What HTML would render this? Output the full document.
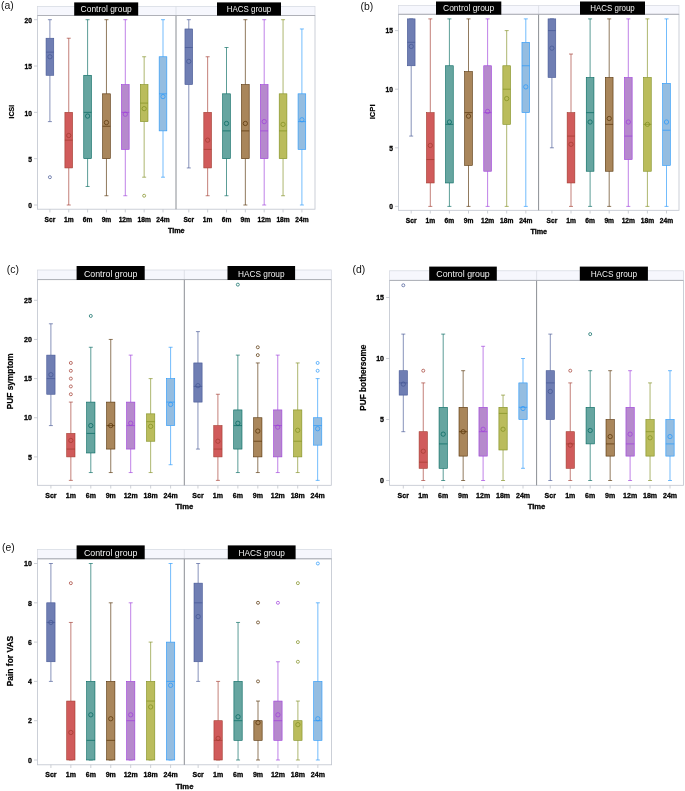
<!DOCTYPE html>
<html><head><meta charset="utf-8"><title>Box plots</title>
<style>
html,body{margin:0;padding:0;background:#fff;}
svg{display:block;will-change:transform;opacity:0.9999;}
text{font-family:"Liberation Sans",sans-serif;}
.gl{font-size:9.2px;fill:#f2f2f2;text-anchor:middle;}
.yt{font-size:7.5px;font-weight:bold;fill:#000;stroke:#000;stroke-width:0.3px;text-anchor:end;}
.xt{font-size:7.5px;font-weight:bold;fill:#000;stroke:#000;stroke-width:0.3px;text-anchor:middle;}
.al{font-size:7.65px;font-weight:bold;fill:#000;stroke:#000;stroke-width:0.3px;text-anchor:middle;}
.yl{font-size:8.2px;font-weight:bold;fill:#000;stroke:#000;stroke-width:0.2px;text-anchor:middle;}
.gl.s{font-size:8.8px;}
.yt.s,.xt.s{font-size:7.1px;}
.al.s{font-size:7.2px;}
.yl.s{font-size:7.8px;}
.tg{font-size:10.4px;fill:#111;}
</style></head><body>
<svg width="685" height="791" viewBox="0 0 685 791">
<rect width="685" height="791" fill="#fff"/>
<g>
<rect x="37.5" y="6.4" width="277.5" height="9.1" fill="#f6f7fd" stroke="#d4d8e0" stroke-width="0.7"/>
<line x1="176" y1="6.4" x2="176" y2="15.5" stroke="#d4d8e0" stroke-width="0.7"/>
<rect x="37.5" y="15.5" width="277.5" height="193.7" fill="#fff" stroke="#bfc4ce" stroke-width="0.8"/>
<line x1="176" y1="15.5" x2="176" y2="209.2" stroke="#7e8188" stroke-width="0.9"/>
<line x1="37.5" y1="15.5" x2="315" y2="15.5" stroke="#acaeb4" stroke-width="0.9"/>
<rect x="74.2" y="2.4" width="64" height="13.2" fill="#000"/>
<text x="106.2" y="12.3" class="gl s" textLength="51.2" lengthAdjust="spacingAndGlyphs">Control group</text>
<rect x="217" y="2.4" width="64" height="13.2" fill="#000"/>
<text x="249" y="12.3" class="gl s" textLength="44.5" lengthAdjust="spacingAndGlyphs">HACS group</text>
<line x1="34" y1="205" x2="37.5" y2="205" stroke="#c0c4cc" stroke-width="0.8"/>
<text transform="translate(31.9,208.2) scale(0.94,1)" class="yt s">0</text>
<line x1="34" y1="158.68" x2="37.5" y2="158.68" stroke="#c0c4cc" stroke-width="0.8"/>
<text transform="translate(31.9,161.88) scale(0.94,1)" class="yt s">5</text>
<line x1="34" y1="112.35" x2="37.5" y2="112.35" stroke="#c0c4cc" stroke-width="0.8"/>
<text transform="translate(31.9,115.55) scale(0.94,1)" class="yt s">10</text>
<line x1="34" y1="66.02" x2="37.5" y2="66.02" stroke="#c0c4cc" stroke-width="0.8"/>
<text transform="translate(31.9,69.22) scale(0.94,1)" class="yt s">15</text>
<line x1="34" y1="19.7" x2="37.5" y2="19.7" stroke="#c0c4cc" stroke-width="0.8"/>
<text transform="translate(31.9,22.9) scale(0.94,1)" class="yt s">20</text>
<text transform="translate(14.2,111.6) rotate(-90)" class="yl s" textLength="13.6" lengthAdjust="spacingAndGlyphs">ICSI</text>
<text x="176.25" y="232.5" class="al s">Time</text>
<text x="1" y="9" class="tg">(a)</text>
<line x1="49.9" y1="209.2" x2="49.9" y2="212.4" stroke="#c0c4cc" stroke-width="0.8"/>
<text transform="translate(49.9,222.1) scale(0.94,1)" class="xt s">Scr</text>
<path d="M49.9 19.7V38.23M49.9 75.29V121.61M47.9 19.7h4M47.9 121.61h4" stroke="#445694" stroke-width="0.95" stroke-opacity="0.68" fill="none"/>
<rect x="46.05" y="38.23" width="7.7" height="37.06" fill="#6F7EB3" stroke="#445694" stroke-width="0.6"/>
<line x1="46.05" y1="52.13" x2="53.75" y2="52.13" stroke="#445694" stroke-width="0.8" stroke-opacity="0.85"/>
<circle cx="49.9" cy="56.76" r="2.15" fill="none" stroke="#445694" stroke-width="0.7"/>
<circle cx="49.9" cy="177.2" r="1.5" fill="none" stroke="#445694" stroke-width="0.7"/>
<line x1="68.75" y1="209.2" x2="68.75" y2="212.4" stroke="#c0c4cc" stroke-width="0.8"/>
<text transform="translate(68.75,222.1) scale(0.94,1)" class="xt s">1m</text>
<path d="M68.75 38.23V112.35M68.75 167.94V205M66.75 38.23h4M66.75 205h4" stroke="#A23A2E" stroke-width="0.95" stroke-opacity="0.68" fill="none"/>
<rect x="64.9" y="112.35" width="7.7" height="55.59" fill="#D05B5B" stroke="#A23A2E" stroke-width="0.6"/>
<line x1="64.9" y1="140.14" x2="72.6" y2="140.14" stroke="#A23A2E" stroke-width="0.8" stroke-opacity="0.85"/>
<circle cx="68.75" cy="135.51" r="2.15" fill="none" stroke="#A23A2E" stroke-width="0.7"/>
<line x1="87.6" y1="209.2" x2="87.6" y2="212.4" stroke="#c0c4cc" stroke-width="0.8"/>
<text transform="translate(87.6,222.1) scale(0.94,1)" class="xt s">6m</text>
<path d="M87.6 19.7V75.29M87.6 158.68V186.47M85.6 19.7h4M85.6 186.47h4" stroke="#01665E" stroke-width="0.95" stroke-opacity="0.68" fill="none"/>
<rect x="83.75" y="75.29" width="7.7" height="83.39" fill="#66A5A0" stroke="#01665E" stroke-width="0.6"/>
<line x1="83.75" y1="112.35" x2="91.45" y2="112.35" stroke="#01665E" stroke-width="0.8" stroke-opacity="0.85"/>
<circle cx="87.6" cy="116.06" r="2.15" fill="none" stroke="#01665E" stroke-width="0.7"/>
<line x1="106.45" y1="209.2" x2="106.45" y2="212.4" stroke="#c0c4cc" stroke-width="0.8"/>
<text transform="translate(106.45,222.1) scale(0.94,1)" class="xt s">9m</text>
<path d="M106.45 19.7V93.82M106.45 158.68V195.74M104.45 19.7h4M104.45 195.74h4" stroke="#543005" stroke-width="0.95" stroke-opacity="0.68" fill="none"/>
<rect x="102.6" y="93.82" width="7.7" height="64.86" fill="#A9865B" stroke="#543005" stroke-width="0.6"/>
<line x1="102.6" y1="126.25" x2="110.3" y2="126.25" stroke="#543005" stroke-width="0.8" stroke-opacity="0.85"/>
<circle cx="106.45" cy="122.54" r="2.15" fill="none" stroke="#543005" stroke-width="0.7"/>
<line x1="125.3" y1="209.2" x2="125.3" y2="212.4" stroke="#c0c4cc" stroke-width="0.8"/>
<text transform="translate(125.3,222.1) scale(0.94,1)" class="xt s">12m</text>
<path d="M125.3 19.7V84.55M125.3 149.41V195.74M123.3 19.7h4M123.3 195.74h4" stroke="#9D3CDB" stroke-width="0.95" stroke-opacity="0.68" fill="none"/>
<rect x="121.45" y="84.55" width="7.7" height="64.86" fill="#B689CD" stroke="#9D3CDB" stroke-width="0.6"/>
<line x1="121.45" y1="112.35" x2="129.15" y2="112.35" stroke="#9D3CDB" stroke-width="0.8" stroke-opacity="0.85"/>
<circle cx="125.3" cy="114.2" r="2.15" fill="none" stroke="#9D3CDB" stroke-width="0.7"/>
<line x1="144.15" y1="209.2" x2="144.15" y2="212.4" stroke="#c0c4cc" stroke-width="0.8"/>
<text transform="translate(144.15,222.1) scale(0.94,1)" class="xt s">18m</text>
<path d="M144.15 56.76V84.55M144.15 121.61V177.2M142.15 56.76h4M142.15 177.2h4" stroke="#7F8E1F" stroke-width="0.95" stroke-opacity="0.68" fill="none"/>
<rect x="140.3" y="84.55" width="7.7" height="37.06" fill="#BABC5C" stroke="#7F8E1F" stroke-width="0.6"/>
<line x1="140.3" y1="103.08" x2="148" y2="103.08" stroke="#7F8E1F" stroke-width="0.8" stroke-opacity="0.85"/>
<circle cx="144.15" cy="108.64" r="2.15" fill="none" stroke="#7F8E1F" stroke-width="0.7"/>
<circle cx="144.15" cy="195.74" r="1.5" fill="none" stroke="#7F8E1F" stroke-width="0.7"/>
<line x1="163" y1="209.2" x2="163" y2="212.4" stroke="#c0c4cc" stroke-width="0.8"/>
<text transform="translate(163,222.1) scale(0.94,1)" class="xt s">24m</text>
<path d="M163 19.7V56.76M163 130.88V177.2M161 19.7h4M161 177.2h4" stroke="#2597FA" stroke-width="0.95" stroke-opacity="0.68" fill="none"/>
<rect x="159.15" y="56.76" width="7.7" height="74.12" fill="#94BDE1" stroke="#2597FA" stroke-width="0.6"/>
<line x1="159.15" y1="93.82" x2="166.85" y2="93.82" stroke="#2597FA" stroke-width="0.8" stroke-opacity="0.85"/>
<circle cx="163" cy="96.6" r="2.15" fill="none" stroke="#2597FA" stroke-width="0.7"/>
<line x1="188.8" y1="209.2" x2="188.8" y2="212.4" stroke="#c0c4cc" stroke-width="0.8"/>
<text transform="translate(188.8,222.1) scale(0.94,1)" class="xt s">Scr</text>
<path d="M188.8 19.7V28.96M188.8 84.55V167.94M186.8 19.7h4M186.8 167.94h4" stroke="#445694" stroke-width="0.95" stroke-opacity="0.68" fill="none"/>
<rect x="184.95" y="28.96" width="7.7" height="55.59" fill="#6F7EB3" stroke="#445694" stroke-width="0.6"/>
<line x1="184.95" y1="47.5" x2="192.65" y2="47.5" stroke="#445694" stroke-width="0.8" stroke-opacity="0.85"/>
<circle cx="188.8" cy="61.39" r="2.15" fill="none" stroke="#445694" stroke-width="0.7"/>
<line x1="207.65" y1="209.2" x2="207.65" y2="212.4" stroke="#c0c4cc" stroke-width="0.8"/>
<text transform="translate(207.65,222.1) scale(0.94,1)" class="xt s">1m</text>
<path d="M207.65 56.76V112.35M207.65 167.94V195.74M205.65 56.76h4M205.65 195.74h4" stroke="#A23A2E" stroke-width="0.95" stroke-opacity="0.68" fill="none"/>
<rect x="203.8" y="112.35" width="7.7" height="55.59" fill="#D05B5B" stroke="#A23A2E" stroke-width="0.6"/>
<line x1="203.8" y1="149.41" x2="211.5" y2="149.41" stroke="#A23A2E" stroke-width="0.8" stroke-opacity="0.85"/>
<circle cx="207.65" cy="140.14" r="2.15" fill="none" stroke="#A23A2E" stroke-width="0.7"/>
<line x1="226.5" y1="209.2" x2="226.5" y2="212.4" stroke="#c0c4cc" stroke-width="0.8"/>
<text transform="translate(226.5,222.1) scale(0.94,1)" class="xt s">6m</text>
<path d="M226.5 47.5V93.82M226.5 158.68V195.74M224.5 47.5h4M224.5 195.74h4" stroke="#01665E" stroke-width="0.95" stroke-opacity="0.68" fill="none"/>
<rect x="222.65" y="93.82" width="7.7" height="64.86" fill="#66A5A0" stroke="#01665E" stroke-width="0.6"/>
<line x1="222.65" y1="130.88" x2="230.35" y2="130.88" stroke="#01665E" stroke-width="0.8" stroke-opacity="0.85"/>
<circle cx="226.5" cy="123.47" r="2.15" fill="none" stroke="#01665E" stroke-width="0.7"/>
<line x1="245.35" y1="209.2" x2="245.35" y2="212.4" stroke="#c0c4cc" stroke-width="0.8"/>
<text transform="translate(245.35,222.1) scale(0.94,1)" class="xt s">9m</text>
<path d="M245.35 19.7V84.55M245.35 158.68V205M243.35 19.7h4M243.35 205h4" stroke="#543005" stroke-width="0.95" stroke-opacity="0.68" fill="none"/>
<rect x="241.5" y="84.55" width="7.7" height="74.12" fill="#A9865B" stroke="#543005" stroke-width="0.6"/>
<line x1="241.5" y1="130.88" x2="249.2" y2="130.88" stroke="#543005" stroke-width="0.8" stroke-opacity="0.85"/>
<circle cx="245.35" cy="123.47" r="2.15" fill="none" stroke="#543005" stroke-width="0.7"/>
<line x1="264.2" y1="209.2" x2="264.2" y2="212.4" stroke="#c0c4cc" stroke-width="0.8"/>
<text transform="translate(264.2,222.1) scale(0.94,1)" class="xt s">12m</text>
<path d="M264.2 19.7V84.55M264.2 158.68V205M262.2 19.7h4M262.2 205h4" stroke="#9D3CDB" stroke-width="0.95" stroke-opacity="0.68" fill="none"/>
<rect x="260.35" y="84.55" width="7.7" height="74.12" fill="#B689CD" stroke="#9D3CDB" stroke-width="0.6"/>
<line x1="260.35" y1="130.88" x2="268.05" y2="130.88" stroke="#9D3CDB" stroke-width="0.8" stroke-opacity="0.85"/>
<circle cx="264.2" cy="121.61" r="2.15" fill="none" stroke="#9D3CDB" stroke-width="0.7"/>
<line x1="283.05" y1="209.2" x2="283.05" y2="212.4" stroke="#c0c4cc" stroke-width="0.8"/>
<text transform="translate(283.05,222.1) scale(0.94,1)" class="xt s">18m</text>
<path d="M283.05 19.7V93.82M283.05 158.68V195.74M281.05 19.7h4M281.05 195.74h4" stroke="#7F8E1F" stroke-width="0.95" stroke-opacity="0.68" fill="none"/>
<rect x="279.2" y="93.82" width="7.7" height="64.86" fill="#BABC5C" stroke="#7F8E1F" stroke-width="0.6"/>
<line x1="279.2" y1="130.88" x2="286.9" y2="130.88" stroke="#7F8E1F" stroke-width="0.8" stroke-opacity="0.85"/>
<circle cx="283.05" cy="124.39" r="2.15" fill="none" stroke="#7F8E1F" stroke-width="0.7"/>
<line x1="301.9" y1="209.2" x2="301.9" y2="212.4" stroke="#c0c4cc" stroke-width="0.8"/>
<text transform="translate(301.9,222.1) scale(0.94,1)" class="xt s">24m</text>
<path d="M301.9 28.96V93.82M301.9 149.41V205M299.9 28.96h4M299.9 205h4" stroke="#2597FA" stroke-width="0.95" stroke-opacity="0.68" fill="none"/>
<rect x="298.05" y="93.82" width="7.7" height="55.59" fill="#94BDE1" stroke="#2597FA" stroke-width="0.6"/>
<line x1="298.05" y1="121.61" x2="305.75" y2="121.61" stroke="#2597FA" stroke-width="0.8" stroke-opacity="0.85"/>
<circle cx="301.9" cy="119.76" r="2.15" fill="none" stroke="#2597FA" stroke-width="0.7"/>
</g>
<g>
<rect x="398.5" y="5.6" width="280.5" height="8.7" fill="#f6f7fd" stroke="#d4d8e0" stroke-width="0.7"/>
<line x1="538.6" y1="5.6" x2="538.6" y2="14.3" stroke="#d4d8e0" stroke-width="0.7"/>
<rect x="398.5" y="14.3" width="280.5" height="196" fill="#fff" stroke="#bfc4ce" stroke-width="0.8"/>
<line x1="538.6" y1="14.3" x2="538.6" y2="210.3" stroke="#7e8188" stroke-width="0.9"/>
<line x1="398.5" y1="14.3" x2="679" y2="14.3" stroke="#acaeb4" stroke-width="0.9"/>
<rect x="436" y="1.5" width="65.3" height="13.2" fill="#000"/>
<text x="468.65" y="11.4" class="gl s" textLength="51.2" lengthAdjust="spacingAndGlyphs">Control group</text>
<rect x="580" y="1.5" width="65" height="13.2" fill="#000"/>
<text x="612.5" y="11.4" class="gl s" textLength="44.5" lengthAdjust="spacingAndGlyphs">HACS group</text>
<line x1="395" y1="206.4" x2="398.5" y2="206.4" stroke="#c0c4cc" stroke-width="0.8"/>
<text transform="translate(392.9,209.1) scale(0.94,1)" class="yt s">0</text>
<line x1="395" y1="147.8" x2="398.5" y2="147.8" stroke="#c0c4cc" stroke-width="0.8"/>
<text transform="translate(392.9,150.5) scale(0.94,1)" class="yt s">5</text>
<line x1="395" y1="89.2" x2="398.5" y2="89.2" stroke="#c0c4cc" stroke-width="0.8"/>
<text transform="translate(392.9,91.9) scale(0.94,1)" class="yt s">10</text>
<line x1="395" y1="30.6" x2="398.5" y2="30.6" stroke="#c0c4cc" stroke-width="0.8"/>
<text transform="translate(392.9,33.3) scale(0.94,1)" class="yt s">15</text>
<text transform="translate(375.3,111.9) rotate(-90)" class="yl s" textLength="14.9" lengthAdjust="spacingAndGlyphs">ICPI</text>
<text x="538.75" y="233.9" class="al s">Time</text>
<text x="360.5" y="10" class="tg">(b)</text>
<line x1="411.2" y1="210.3" x2="411.2" y2="213.5" stroke="#c0c4cc" stroke-width="0.8"/>
<text transform="translate(411.2,223) scale(0.94,1)" class="xt s">Scr</text>
<path d="M411.2 18.88V18.88M411.2 65.76V136.08M409.2 18.88h4M409.2 136.08h4" stroke="#445694" stroke-width="0.95" stroke-opacity="0.68" fill="none"/>
<rect x="407.35" y="18.88" width="7.7" height="46.88" fill="#6F7EB3" stroke="#445694" stroke-width="0.6"/>
<line x1="407.35" y1="42.32" x2="415.05" y2="42.32" stroke="#445694" stroke-width="0.8" stroke-opacity="0.85"/>
<circle cx="411.2" cy="46.42" r="2.15" fill="none" stroke="#445694" stroke-width="0.7"/>
<line x1="430.3" y1="210.3" x2="430.3" y2="213.5" stroke="#c0c4cc" stroke-width="0.8"/>
<text transform="translate(430.3,223) scale(0.94,1)" class="xt s">1m</text>
<path d="M430.3 18.88V112.64M430.3 182.96V206.4M428.3 18.88h4M428.3 206.4h4" stroke="#A23A2E" stroke-width="0.95" stroke-opacity="0.68" fill="none"/>
<rect x="426.45" y="112.64" width="7.7" height="70.32" fill="#D05B5B" stroke="#A23A2E" stroke-width="0.6"/>
<line x1="426.45" y1="159.52" x2="434.15" y2="159.52" stroke="#A23A2E" stroke-width="0.8" stroke-opacity="0.85"/>
<circle cx="430.3" cy="145.46" r="2.15" fill="none" stroke="#A23A2E" stroke-width="0.7"/>
<line x1="449.4" y1="210.3" x2="449.4" y2="213.5" stroke="#c0c4cc" stroke-width="0.8"/>
<text transform="translate(449.4,223) scale(0.94,1)" class="xt s">6m</text>
<path d="M449.4 18.88V65.76M449.4 182.96V206.4M447.4 18.88h4M447.4 206.4h4" stroke="#01665E" stroke-width="0.95" stroke-opacity="0.68" fill="none"/>
<rect x="445.55" y="65.76" width="7.7" height="117.2" fill="#66A5A0" stroke="#01665E" stroke-width="0.6"/>
<line x1="445.55" y1="124.36" x2="453.25" y2="124.36" stroke="#01665E" stroke-width="0.8" stroke-opacity="0.85"/>
<circle cx="449.4" cy="122.02" r="2.15" fill="none" stroke="#01665E" stroke-width="0.7"/>
<line x1="468.5" y1="210.3" x2="468.5" y2="213.5" stroke="#c0c4cc" stroke-width="0.8"/>
<text transform="translate(468.5,223) scale(0.94,1)" class="xt s">9m</text>
<path d="M468.5 18.88V71.62M468.5 165.38V206.4M466.5 18.88h4M466.5 206.4h4" stroke="#543005" stroke-width="0.95" stroke-opacity="0.68" fill="none"/>
<rect x="464.65" y="71.62" width="7.7" height="93.76" fill="#A9865B" stroke="#543005" stroke-width="0.6"/>
<line x1="464.65" y1="112.64" x2="472.35" y2="112.64" stroke="#543005" stroke-width="0.8" stroke-opacity="0.85"/>
<circle cx="468.5" cy="116.16" r="2.15" fill="none" stroke="#543005" stroke-width="0.7"/>
<line x1="487.6" y1="210.3" x2="487.6" y2="213.5" stroke="#c0c4cc" stroke-width="0.8"/>
<text transform="translate(487.6,223) scale(0.94,1)" class="xt s">12m</text>
<path d="M487.6 18.88V65.76M487.6 171.24V206.4M485.6 18.88h4M485.6 206.4h4" stroke="#9D3CDB" stroke-width="0.95" stroke-opacity="0.68" fill="none"/>
<rect x="483.75" y="65.76" width="7.7" height="105.48" fill="#B689CD" stroke="#9D3CDB" stroke-width="0.6"/>
<line x1="483.75" y1="112.64" x2="491.45" y2="112.64" stroke="#9D3CDB" stroke-width="0.8" stroke-opacity="0.85"/>
<circle cx="487.6" cy="111.47" r="2.15" fill="none" stroke="#9D3CDB" stroke-width="0.7"/>
<line x1="506.7" y1="210.3" x2="506.7" y2="213.5" stroke="#c0c4cc" stroke-width="0.8"/>
<text transform="translate(506.7,223) scale(0.94,1)" class="xt s">18m</text>
<path d="M506.7 30.6V65.76M506.7 124.36V206.4M504.7 30.6h4M504.7 206.4h4" stroke="#7F8E1F" stroke-width="0.95" stroke-opacity="0.68" fill="none"/>
<rect x="502.85" y="65.76" width="7.7" height="58.6" fill="#BABC5C" stroke="#7F8E1F" stroke-width="0.6"/>
<line x1="502.85" y1="89.2" x2="510.55" y2="89.2" stroke="#7F8E1F" stroke-width="0.8" stroke-opacity="0.85"/>
<circle cx="506.7" cy="98.58" r="2.15" fill="none" stroke="#7F8E1F" stroke-width="0.7"/>
<line x1="525.8" y1="210.3" x2="525.8" y2="213.5" stroke="#c0c4cc" stroke-width="0.8"/>
<text transform="translate(525.8,223) scale(0.94,1)" class="xt s">24m</text>
<path d="M525.8 18.88V42.32M525.8 112.64V206.4M523.8 18.88h4M523.8 206.4h4" stroke="#2597FA" stroke-width="0.95" stroke-opacity="0.68" fill="none"/>
<rect x="521.95" y="42.32" width="7.7" height="70.32" fill="#94BDE1" stroke="#2597FA" stroke-width="0.6"/>
<line x1="521.95" y1="65.76" x2="529.65" y2="65.76" stroke="#2597FA" stroke-width="0.8" stroke-opacity="0.85"/>
<circle cx="525.8" cy="86.86" r="2.15" fill="none" stroke="#2597FA" stroke-width="0.7"/>
<line x1="551.9" y1="210.3" x2="551.9" y2="213.5" stroke="#c0c4cc" stroke-width="0.8"/>
<text transform="translate(551.9,223) scale(0.94,1)" class="xt s">Scr</text>
<path d="M551.9 18.88V18.88M551.9 77.48V147.8M549.9 18.88h4M549.9 147.8h4" stroke="#445694" stroke-width="0.95" stroke-opacity="0.68" fill="none"/>
<rect x="548.05" y="18.88" width="7.7" height="58.6" fill="#6F7EB3" stroke="#445694" stroke-width="0.6"/>
<line x1="548.05" y1="30.6" x2="555.75" y2="30.6" stroke="#445694" stroke-width="0.8" stroke-opacity="0.85"/>
<circle cx="551.9" cy="48.18" r="2.15" fill="none" stroke="#445694" stroke-width="0.7"/>
<line x1="571" y1="210.3" x2="571" y2="213.5" stroke="#c0c4cc" stroke-width="0.8"/>
<text transform="translate(571,223) scale(0.94,1)" class="xt s">1m</text>
<path d="M571 54.04V112.64M571 182.96V206.4M569 54.04h4M569 206.4h4" stroke="#A23A2E" stroke-width="0.95" stroke-opacity="0.68" fill="none"/>
<rect x="567.15" y="112.64" width="7.7" height="70.32" fill="#D05B5B" stroke="#A23A2E" stroke-width="0.6"/>
<line x1="567.15" y1="136.08" x2="574.85" y2="136.08" stroke="#A23A2E" stroke-width="0.8" stroke-opacity="0.85"/>
<circle cx="571" cy="144.28" r="2.15" fill="none" stroke="#A23A2E" stroke-width="0.7"/>
<line x1="590.1" y1="210.3" x2="590.1" y2="213.5" stroke="#c0c4cc" stroke-width="0.8"/>
<text transform="translate(590.1,223) scale(0.94,1)" class="xt s">6m</text>
<path d="M590.1 18.88V77.48M590.1 171.24V206.4M588.1 18.88h4M588.1 206.4h4" stroke="#01665E" stroke-width="0.95" stroke-opacity="0.68" fill="none"/>
<rect x="586.25" y="77.48" width="7.7" height="93.76" fill="#66A5A0" stroke="#01665E" stroke-width="0.6"/>
<line x1="586.25" y1="112.64" x2="593.95" y2="112.64" stroke="#01665E" stroke-width="0.8" stroke-opacity="0.85"/>
<circle cx="590.1" cy="122.02" r="2.15" fill="none" stroke="#01665E" stroke-width="0.7"/>
<line x1="609.2" y1="210.3" x2="609.2" y2="213.5" stroke="#c0c4cc" stroke-width="0.8"/>
<text transform="translate(609.2,223) scale(0.94,1)" class="xt s">9m</text>
<path d="M609.2 18.88V77.48M609.2 171.24V206.4M607.2 18.88h4M607.2 206.4h4" stroke="#543005" stroke-width="0.95" stroke-opacity="0.68" fill="none"/>
<rect x="605.35" y="77.48" width="7.7" height="93.76" fill="#A9865B" stroke="#543005" stroke-width="0.6"/>
<line x1="605.35" y1="124.36" x2="613.05" y2="124.36" stroke="#543005" stroke-width="0.8" stroke-opacity="0.85"/>
<circle cx="609.2" cy="118.5" r="2.15" fill="none" stroke="#543005" stroke-width="0.7"/>
<line x1="628.3" y1="210.3" x2="628.3" y2="213.5" stroke="#c0c4cc" stroke-width="0.8"/>
<text transform="translate(628.3,223) scale(0.94,1)" class="xt s">12m</text>
<path d="M628.3 18.88V77.48M628.3 159.52V206.4M626.3 18.88h4M626.3 206.4h4" stroke="#9D3CDB" stroke-width="0.95" stroke-opacity="0.68" fill="none"/>
<rect x="624.45" y="77.48" width="7.7" height="82.04" fill="#B689CD" stroke="#9D3CDB" stroke-width="0.6"/>
<line x1="624.45" y1="136.08" x2="632.15" y2="136.08" stroke="#9D3CDB" stroke-width="0.8" stroke-opacity="0.85"/>
<circle cx="628.3" cy="122.02" r="2.15" fill="none" stroke="#9D3CDB" stroke-width="0.7"/>
<line x1="647.4" y1="210.3" x2="647.4" y2="213.5" stroke="#c0c4cc" stroke-width="0.8"/>
<text transform="translate(647.4,223) scale(0.94,1)" class="xt s">18m</text>
<path d="M647.4 18.88V77.48M647.4 171.24V206.4M645.4 18.88h4M645.4 206.4h4" stroke="#7F8E1F" stroke-width="0.95" stroke-opacity="0.68" fill="none"/>
<rect x="643.55" y="77.48" width="7.7" height="93.76" fill="#BABC5C" stroke="#7F8E1F" stroke-width="0.6"/>
<line x1="643.55" y1="124.36" x2="651.25" y2="124.36" stroke="#7F8E1F" stroke-width="0.8" stroke-opacity="0.85"/>
<circle cx="647.4" cy="124.36" r="2.15" fill="none" stroke="#7F8E1F" stroke-width="0.7"/>
<line x1="666.5" y1="210.3" x2="666.5" y2="213.5" stroke="#c0c4cc" stroke-width="0.8"/>
<text transform="translate(666.5,223) scale(0.94,1)" class="xt s">24m</text>
<path d="M666.5 18.88V83.34M666.5 165.38V206.4M664.5 18.88h4M664.5 206.4h4" stroke="#2597FA" stroke-width="0.95" stroke-opacity="0.68" fill="none"/>
<rect x="662.65" y="83.34" width="7.7" height="82.04" fill="#94BDE1" stroke="#2597FA" stroke-width="0.6"/>
<line x1="662.65" y1="130.22" x2="670.35" y2="130.22" stroke="#2597FA" stroke-width="0.8" stroke-opacity="0.85"/>
<circle cx="666.5" cy="122.02" r="2.15" fill="none" stroke="#2597FA" stroke-width="0.7"/>
</g>
<g>
<rect x="37.5" y="270" width="293.8" height="9.6" fill="#f6f7fd" stroke="#d4d8e0" stroke-width="0.7"/>
<line x1="184.3" y1="270" x2="184.3" y2="279.6" stroke="#d4d8e0" stroke-width="0.7"/>
<rect x="37.5" y="279.6" width="293.8" height="205.7" fill="#fff" stroke="#bfc4ce" stroke-width="0.8"/>
<line x1="184.3" y1="279.6" x2="184.3" y2="485.3" stroke="#7e8188" stroke-width="0.9"/>
<line x1="37.5" y1="279.6" x2="331.3" y2="279.6" stroke="#acaeb4" stroke-width="0.9"/>
<rect x="76.6" y="266" width="68.1" height="14" fill="#000"/>
<text x="110.65" y="276.7" class="gl" textLength="53.4" lengthAdjust="spacingAndGlyphs">Control group</text>
<rect x="227.5" y="266" width="67.6" height="14" fill="#000"/>
<text x="261.3" y="276.7" class="gl" textLength="46.4" lengthAdjust="spacingAndGlyphs">HACS group</text>
<line x1="34" y1="456.9" x2="37.5" y2="456.9" stroke="#c0c4cc" stroke-width="0.8"/>
<text transform="translate(31.9,459.6) scale(0.94,1)" class="yt">5</text>
<line x1="34" y1="417.75" x2="37.5" y2="417.75" stroke="#c0c4cc" stroke-width="0.8"/>
<text transform="translate(31.9,420.45) scale(0.94,1)" class="yt">10</text>
<line x1="34" y1="378.6" x2="37.5" y2="378.6" stroke="#c0c4cc" stroke-width="0.8"/>
<text transform="translate(31.9,381.3) scale(0.94,1)" class="yt">15</text>
<line x1="34" y1="339.45" x2="37.5" y2="339.45" stroke="#c0c4cc" stroke-width="0.8"/>
<text transform="translate(31.9,342.15) scale(0.94,1)" class="yt">20</text>
<line x1="34" y1="300.3" x2="37.5" y2="300.3" stroke="#c0c4cc" stroke-width="0.8"/>
<text transform="translate(31.9,303) scale(0.94,1)" class="yt">25</text>
<text transform="translate(13.1,381.3) rotate(-90)" class="yl" textLength="55.9" lengthAdjust="spacingAndGlyphs">PUF symptom</text>
<text x="184.4" y="509" class="al">Time</text>
<text x="6.8" y="272.5" class="tg">(c)</text>
<line x1="50.9" y1="485.3" x2="50.9" y2="488.5" stroke="#c0c4cc" stroke-width="0.8"/>
<text transform="translate(50.9,497.8) scale(0.94,1)" class="xt">Scr</text>
<path d="M50.9 323.79V355.11M50.9 394.26V425.58M48.9 323.79h4M48.9 425.58h4" stroke="#445694" stroke-width="0.95" stroke-opacity="0.68" fill="none"/>
<rect x="46.75" y="355.11" width="8.3" height="39.15" fill="#6F7EB3" stroke="#445694" stroke-width="0.6"/>
<line x1="46.75" y1="378.6" x2="55.05" y2="378.6" stroke="#445694" stroke-width="0.8" stroke-opacity="0.85"/>
<circle cx="50.9" cy="374.69" r="2.15" fill="none" stroke="#445694" stroke-width="0.7"/>
<line x1="70.85" y1="485.3" x2="70.85" y2="488.5" stroke="#c0c4cc" stroke-width="0.8"/>
<text transform="translate(70.85,497.8) scale(0.94,1)" class="xt">1m</text>
<path d="M70.85 402.09V433.41M70.85 456.9V480.39M68.85 402.09h4M68.85 480.39h4" stroke="#A23A2E" stroke-width="0.95" stroke-opacity="0.68" fill="none"/>
<rect x="66.7" y="433.41" width="8.3" height="23.49" fill="#D05B5B" stroke="#A23A2E" stroke-width="0.6"/>
<line x1="66.7" y1="449.07" x2="75" y2="449.07" stroke="#A23A2E" stroke-width="0.8" stroke-opacity="0.85"/>
<circle cx="70.85" cy="440.46" r="2.15" fill="none" stroke="#A23A2E" stroke-width="0.7"/>
<circle cx="70.85" cy="394.26" r="1.5" fill="none" stroke="#A23A2E" stroke-width="0.7"/>
<circle cx="70.85" cy="386.43" r="1.5" fill="none" stroke="#A23A2E" stroke-width="0.7"/>
<circle cx="70.85" cy="378.6" r="1.5" fill="none" stroke="#A23A2E" stroke-width="0.7"/>
<circle cx="70.85" cy="370.77" r="1.5" fill="none" stroke="#A23A2E" stroke-width="0.7"/>
<circle cx="70.85" cy="362.94" r="1.5" fill="none" stroke="#A23A2E" stroke-width="0.7"/>
<line x1="90.8" y1="485.3" x2="90.8" y2="488.5" stroke="#c0c4cc" stroke-width="0.8"/>
<text transform="translate(90.8,497.8) scale(0.94,1)" class="xt">6m</text>
<path d="M90.8 347.28V402.09M90.8 452.99V472.56M88.8 347.28h4M88.8 472.56h4" stroke="#01665E" stroke-width="0.95" stroke-opacity="0.68" fill="none"/>
<rect x="86.65" y="402.09" width="8.3" height="50.89" fill="#66A5A0" stroke="#01665E" stroke-width="0.6"/>
<line x1="86.65" y1="433.41" x2="94.95" y2="433.41" stroke="#01665E" stroke-width="0.8" stroke-opacity="0.85"/>
<circle cx="90.8" cy="425.58" r="2.15" fill="none" stroke="#01665E" stroke-width="0.7"/>
<circle cx="90.8" cy="315.96" r="1.5" fill="none" stroke="#01665E" stroke-width="0.7"/>
<line x1="110.75" y1="485.3" x2="110.75" y2="488.5" stroke="#c0c4cc" stroke-width="0.8"/>
<text transform="translate(110.75,497.8) scale(0.94,1)" class="xt">9m</text>
<path d="M110.75 339.45V402.09M110.75 449.07V472.56M108.75 339.45h4M108.75 472.56h4" stroke="#543005" stroke-width="0.95" stroke-opacity="0.68" fill="none"/>
<rect x="106.6" y="402.09" width="8.3" height="46.98" fill="#A9865B" stroke="#543005" stroke-width="0.6"/>
<line x1="106.6" y1="425.58" x2="114.9" y2="425.58" stroke="#543005" stroke-width="0.8" stroke-opacity="0.85"/>
<circle cx="110.75" cy="425.58" r="2.15" fill="none" stroke="#543005" stroke-width="0.7"/>
<line x1="130.7" y1="485.3" x2="130.7" y2="488.5" stroke="#c0c4cc" stroke-width="0.8"/>
<text transform="translate(130.7,497.8) scale(0.94,1)" class="xt">12m</text>
<path d="M130.7 355.11V402.09M130.7 449.07V472.56M128.7 355.11h4M128.7 472.56h4" stroke="#9D3CDB" stroke-width="0.95" stroke-opacity="0.68" fill="none"/>
<rect x="126.55" y="402.09" width="8.3" height="46.98" fill="#B689CD" stroke="#9D3CDB" stroke-width="0.6"/>
<line x1="126.55" y1="425.58" x2="134.85" y2="425.58" stroke="#9D3CDB" stroke-width="0.8" stroke-opacity="0.85"/>
<circle cx="130.7" cy="423.23" r="2.15" fill="none" stroke="#9D3CDB" stroke-width="0.7"/>
<line x1="150.65" y1="485.3" x2="150.65" y2="488.5" stroke="#c0c4cc" stroke-width="0.8"/>
<text transform="translate(150.65,497.8) scale(0.94,1)" class="xt">18m</text>
<path d="M150.65 378.6V413.84M150.65 441.24V472.56M148.65 378.6h4M148.65 472.56h4" stroke="#7F8E1F" stroke-width="0.95" stroke-opacity="0.68" fill="none"/>
<rect x="146.5" y="413.84" width="8.3" height="27.4" fill="#BABC5C" stroke="#7F8E1F" stroke-width="0.6"/>
<line x1="146.5" y1="421.67" x2="154.8" y2="421.67" stroke="#7F8E1F" stroke-width="0.8" stroke-opacity="0.85"/>
<circle cx="150.65" cy="426.36" r="2.15" fill="none" stroke="#7F8E1F" stroke-width="0.7"/>
<line x1="170.6" y1="485.3" x2="170.6" y2="488.5" stroke="#c0c4cc" stroke-width="0.8"/>
<text transform="translate(170.6,497.8) scale(0.94,1)" class="xt">24m</text>
<path d="M170.6 347.28V378.6M170.6 425.58V464.73M168.6 347.28h4M168.6 464.73h4" stroke="#2597FA" stroke-width="0.95" stroke-opacity="0.68" fill="none"/>
<rect x="166.45" y="378.6" width="8.3" height="46.98" fill="#94BDE1" stroke="#2597FA" stroke-width="0.6"/>
<line x1="166.45" y1="402.09" x2="174.75" y2="402.09" stroke="#2597FA" stroke-width="0.8" stroke-opacity="0.85"/>
<circle cx="170.6" cy="404.44" r="2.15" fill="none" stroke="#2597FA" stroke-width="0.7"/>
<line x1="197.95" y1="485.3" x2="197.95" y2="488.5" stroke="#c0c4cc" stroke-width="0.8"/>
<text transform="translate(197.95,497.8) scale(0.94,1)" class="xt">Scr</text>
<path d="M197.95 331.62V362.94M197.95 402.09V449.07M195.95 331.62h4M195.95 449.07h4" stroke="#445694" stroke-width="0.95" stroke-opacity="0.68" fill="none"/>
<rect x="193.8" y="362.94" width="8.3" height="39.15" fill="#6F7EB3" stroke="#445694" stroke-width="0.6"/>
<line x1="193.8" y1="386.43" x2="202.1" y2="386.43" stroke="#445694" stroke-width="0.8" stroke-opacity="0.85"/>
<circle cx="197.95" cy="385.65" r="2.15" fill="none" stroke="#445694" stroke-width="0.7"/>
<line x1="217.9" y1="485.3" x2="217.9" y2="488.5" stroke="#c0c4cc" stroke-width="0.8"/>
<text transform="translate(217.9,497.8) scale(0.94,1)" class="xt">1m</text>
<path d="M217.9 394.26V425.58M217.9 456.9V480.39M215.9 394.26h4M215.9 480.39h4" stroke="#A23A2E" stroke-width="0.95" stroke-opacity="0.68" fill="none"/>
<rect x="213.75" y="425.58" width="8.3" height="31.32" fill="#D05B5B" stroke="#A23A2E" stroke-width="0.6"/>
<line x1="213.75" y1="449.07" x2="222.05" y2="449.07" stroke="#A23A2E" stroke-width="0.8" stroke-opacity="0.85"/>
<circle cx="217.9" cy="441.24" r="2.15" fill="none" stroke="#A23A2E" stroke-width="0.7"/>
<line x1="237.85" y1="485.3" x2="237.85" y2="488.5" stroke="#c0c4cc" stroke-width="0.8"/>
<text transform="translate(237.85,497.8) scale(0.94,1)" class="xt">6m</text>
<path d="M237.85 355.11V409.92M237.85 449.07V472.56M235.85 355.11h4M235.85 472.56h4" stroke="#01665E" stroke-width="0.95" stroke-opacity="0.68" fill="none"/>
<rect x="233.7" y="409.92" width="8.3" height="39.15" fill="#66A5A0" stroke="#01665E" stroke-width="0.6"/>
<line x1="233.7" y1="425.58" x2="242" y2="425.58" stroke="#01665E" stroke-width="0.8" stroke-opacity="0.85"/>
<circle cx="237.85" cy="423.23" r="2.15" fill="none" stroke="#01665E" stroke-width="0.7"/>
<circle cx="237.85" cy="284.64" r="1.5" fill="none" stroke="#01665E" stroke-width="0.7"/>
<line x1="257.8" y1="485.3" x2="257.8" y2="488.5" stroke="#c0c4cc" stroke-width="0.8"/>
<text transform="translate(257.8,497.8) scale(0.94,1)" class="xt">9m</text>
<path d="M257.8 362.94V417.75M257.8 456.9V472.56M255.8 362.94h4M255.8 472.56h4" stroke="#543005" stroke-width="0.95" stroke-opacity="0.68" fill="none"/>
<rect x="253.65" y="417.75" width="8.3" height="39.15" fill="#A9865B" stroke="#543005" stroke-width="0.6"/>
<line x1="253.65" y1="441.24" x2="261.95" y2="441.24" stroke="#543005" stroke-width="0.8" stroke-opacity="0.85"/>
<circle cx="257.8" cy="431.06" r="2.15" fill="none" stroke="#543005" stroke-width="0.7"/>
<circle cx="257.8" cy="355.11" r="1.5" fill="none" stroke="#543005" stroke-width="0.7"/>
<circle cx="257.8" cy="347.28" r="1.5" fill="none" stroke="#543005" stroke-width="0.7"/>
<line x1="277.75" y1="485.3" x2="277.75" y2="488.5" stroke="#c0c4cc" stroke-width="0.8"/>
<text transform="translate(277.75,497.8) scale(0.94,1)" class="xt">12m</text>
<path d="M277.75 355.11V409.92M277.75 456.9V472.56M275.75 355.11h4M275.75 472.56h4" stroke="#9D3CDB" stroke-width="0.95" stroke-opacity="0.68" fill="none"/>
<rect x="273.6" y="409.92" width="8.3" height="46.98" fill="#B689CD" stroke="#9D3CDB" stroke-width="0.6"/>
<line x1="273.6" y1="425.58" x2="281.9" y2="425.58" stroke="#9D3CDB" stroke-width="0.8" stroke-opacity="0.85"/>
<circle cx="277.75" cy="427.15" r="2.15" fill="none" stroke="#9D3CDB" stroke-width="0.7"/>
<line x1="297.7" y1="485.3" x2="297.7" y2="488.5" stroke="#c0c4cc" stroke-width="0.8"/>
<text transform="translate(297.7,497.8) scale(0.94,1)" class="xt">18m</text>
<path d="M297.7 362.94V409.92M297.7 456.9V472.56M295.7 362.94h4M295.7 472.56h4" stroke="#7F8E1F" stroke-width="0.95" stroke-opacity="0.68" fill="none"/>
<rect x="293.55" y="409.92" width="8.3" height="46.98" fill="#BABC5C" stroke="#7F8E1F" stroke-width="0.6"/>
<line x1="293.55" y1="441.24" x2="301.85" y2="441.24" stroke="#7F8E1F" stroke-width="0.8" stroke-opacity="0.85"/>
<circle cx="297.7" cy="430.28" r="2.15" fill="none" stroke="#7F8E1F" stroke-width="0.7"/>
<line x1="317.65" y1="485.3" x2="317.65" y2="488.5" stroke="#c0c4cc" stroke-width="0.8"/>
<text transform="translate(317.65,497.8) scale(0.94,1)" class="xt">24m</text>
<path d="M317.65 378.6V417.75M317.65 445.16V480.39M315.65 378.6h4M315.65 480.39h4" stroke="#2597FA" stroke-width="0.95" stroke-opacity="0.68" fill="none"/>
<rect x="313.5" y="417.75" width="8.3" height="27.41" fill="#94BDE1" stroke="#2597FA" stroke-width="0.6"/>
<line x1="313.5" y1="425.58" x2="321.8" y2="425.58" stroke="#2597FA" stroke-width="0.8" stroke-opacity="0.85"/>
<circle cx="317.65" cy="428.71" r="2.15" fill="none" stroke="#2597FA" stroke-width="0.7"/>
<circle cx="317.65" cy="370.77" r="1.5" fill="none" stroke="#2597FA" stroke-width="0.7"/>
<circle cx="317.65" cy="362.94" r="1.5" fill="none" stroke="#2597FA" stroke-width="0.7"/>
</g>
<g>
<rect x="389.6" y="270.8" width="293.8" height="9.6" fill="#f6f7fd" stroke="#d4d8e0" stroke-width="0.7"/>
<line x1="536.6" y1="270.8" x2="536.6" y2="280.4" stroke="#d4d8e0" stroke-width="0.7"/>
<rect x="389.6" y="280.4" width="293.8" height="204.9" fill="#fff" stroke="#bfc4ce" stroke-width="0.8"/>
<line x1="536.6" y1="280.4" x2="536.6" y2="485.3" stroke="#7e8188" stroke-width="0.9"/>
<line x1="389.6" y1="280.4" x2="683.4" y2="280.4" stroke="#acaeb4" stroke-width="0.9"/>
<rect x="429.2" y="266.6" width="67.6" height="14" fill="#000"/>
<text x="463" y="277.3" class="gl" textLength="53.4" lengthAdjust="spacingAndGlyphs">Control group</text>
<rect x="579.8" y="266.6" width="68.1" height="14" fill="#000"/>
<text x="613.85" y="277.3" class="gl" textLength="46.4" lengthAdjust="spacingAndGlyphs">HACS group</text>
<line x1="386.1" y1="480.5" x2="389.6" y2="480.5" stroke="#c0c4cc" stroke-width="0.8"/>
<text transform="translate(384,483.2) scale(0.94,1)" class="yt">0</text>
<line x1="386.1" y1="419.5" x2="389.6" y2="419.5" stroke="#c0c4cc" stroke-width="0.8"/>
<text transform="translate(384,422.2) scale(0.94,1)" class="yt">5</text>
<line x1="386.1" y1="358.5" x2="389.6" y2="358.5" stroke="#c0c4cc" stroke-width="0.8"/>
<text transform="translate(384,361.2) scale(0.94,1)" class="yt">10</text>
<line x1="386.1" y1="297.5" x2="389.6" y2="297.5" stroke="#c0c4cc" stroke-width="0.8"/>
<text transform="translate(384,300.2) scale(0.94,1)" class="yt">15</text>
<text transform="translate(365.6,377.7) rotate(-90)" class="yl" textLength="66.3" lengthAdjust="spacingAndGlyphs">PUF bothersome</text>
<text x="536.5" y="509.4" class="al">Time</text>
<text x="352.5" y="272.5" class="tg">(d)</text>
<line x1="403.3" y1="485.3" x2="403.3" y2="488.5" stroke="#c0c4cc" stroke-width="0.8"/>
<text transform="translate(403.3,498) scale(0.94,1)" class="xt">Scr</text>
<path d="M403.3 334.1V370.7M403.3 395.1V431.7M401.3 334.1h4M401.3 431.7h4" stroke="#445694" stroke-width="0.95" stroke-opacity="0.68" fill="none"/>
<rect x="399.15" y="370.7" width="8.3" height="24.4" fill="#6F7EB3" stroke="#445694" stroke-width="0.6"/>
<line x1="399.15" y1="382.9" x2="407.45" y2="382.9" stroke="#445694" stroke-width="0.8" stroke-opacity="0.85"/>
<circle cx="403.3" cy="384.12" r="2.15" fill="none" stroke="#445694" stroke-width="0.7"/>
<circle cx="403.3" cy="285.3" r="1.5" fill="none" stroke="#445694" stroke-width="0.7"/>
<line x1="423.25" y1="485.3" x2="423.25" y2="488.5" stroke="#c0c4cc" stroke-width="0.8"/>
<text transform="translate(423.25,498) scale(0.94,1)" class="xt">1m</text>
<path d="M423.25 382.9V431.7M423.25 468.3V480.5M421.25 382.9h4M421.25 480.5h4" stroke="#A23A2E" stroke-width="0.95" stroke-opacity="0.68" fill="none"/>
<rect x="419.1" y="431.7" width="8.3" height="36.6" fill="#D05B5B" stroke="#A23A2E" stroke-width="0.6"/>
<line x1="419.1" y1="462.2" x2="427.4" y2="462.2" stroke="#A23A2E" stroke-width="0.8" stroke-opacity="0.85"/>
<circle cx="423.25" cy="451.22" r="2.15" fill="none" stroke="#A23A2E" stroke-width="0.7"/>
<circle cx="423.25" cy="370.7" r="1.5" fill="none" stroke="#A23A2E" stroke-width="0.7"/>
<line x1="443.2" y1="485.3" x2="443.2" y2="488.5" stroke="#c0c4cc" stroke-width="0.8"/>
<text transform="translate(443.2,498) scale(0.94,1)" class="xt">6m</text>
<path d="M443.2 334.1V407.3M443.2 468.3V480.5M441.2 334.1h4M441.2 480.5h4" stroke="#01665E" stroke-width="0.95" stroke-opacity="0.68" fill="none"/>
<rect x="439.05" y="407.3" width="8.3" height="61" fill="#66A5A0" stroke="#01665E" stroke-width="0.6"/>
<line x1="439.05" y1="443.9" x2="447.35" y2="443.9" stroke="#01665E" stroke-width="0.8" stroke-opacity="0.85"/>
<circle cx="443.2" cy="434.14" r="2.15" fill="none" stroke="#01665E" stroke-width="0.7"/>
<line x1="463.15" y1="485.3" x2="463.15" y2="488.5" stroke="#c0c4cc" stroke-width="0.8"/>
<text transform="translate(463.15,498) scale(0.94,1)" class="xt">9m</text>
<path d="M463.15 370.7V407.3M463.15 456.1V480.5M461.15 370.7h4M461.15 480.5h4" stroke="#543005" stroke-width="0.95" stroke-opacity="0.68" fill="none"/>
<rect x="459" y="407.3" width="8.3" height="48.8" fill="#A9865B" stroke="#543005" stroke-width="0.6"/>
<line x1="459" y1="431.7" x2="467.3" y2="431.7" stroke="#543005" stroke-width="0.8" stroke-opacity="0.85"/>
<circle cx="463.15" cy="431.7" r="2.15" fill="none" stroke="#543005" stroke-width="0.7"/>
<line x1="483.1" y1="485.3" x2="483.1" y2="488.5" stroke="#c0c4cc" stroke-width="0.8"/>
<text transform="translate(483.1,498) scale(0.94,1)" class="xt">12m</text>
<path d="M483.1 346.3V407.3M483.1 456.1V480.5M481.1 346.3h4M481.1 480.5h4" stroke="#9D3CDB" stroke-width="0.95" stroke-opacity="0.68" fill="none"/>
<rect x="478.95" y="407.3" width="8.3" height="48.8" fill="#B689CD" stroke="#9D3CDB" stroke-width="0.6"/>
<line x1="478.95" y1="431.7" x2="487.25" y2="431.7" stroke="#9D3CDB" stroke-width="0.8" stroke-opacity="0.85"/>
<circle cx="483.1" cy="429.26" r="2.15" fill="none" stroke="#9D3CDB" stroke-width="0.7"/>
<line x1="503.05" y1="485.3" x2="503.05" y2="488.5" stroke="#c0c4cc" stroke-width="0.8"/>
<text transform="translate(503.05,498) scale(0.94,1)" class="xt">18m</text>
<path d="M503.05 395.1V407.3M503.05 450V480.5M501.05 395.1h4M501.05 480.5h4" stroke="#7F8E1F" stroke-width="0.95" stroke-opacity="0.68" fill="none"/>
<rect x="498.9" y="407.3" width="8.3" height="42.7" fill="#BABC5C" stroke="#7F8E1F" stroke-width="0.6"/>
<line x1="498.9" y1="413.4" x2="507.2" y2="413.4" stroke="#7F8E1F" stroke-width="0.8" stroke-opacity="0.85"/>
<circle cx="503.05" cy="429.26" r="2.15" fill="none" stroke="#7F8E1F" stroke-width="0.7"/>
<line x1="523" y1="485.3" x2="523" y2="488.5" stroke="#c0c4cc" stroke-width="0.8"/>
<text transform="translate(523,498) scale(0.94,1)" class="xt">24m</text>
<path d="M523 358.5V382.9M523 419.5V468.3M521 358.5h4M521 468.3h4" stroke="#2597FA" stroke-width="0.95" stroke-opacity="0.68" fill="none"/>
<rect x="518.85" y="382.9" width="8.3" height="36.6" fill="#94BDE1" stroke="#2597FA" stroke-width="0.6"/>
<line x1="518.85" y1="407.3" x2="527.15" y2="407.3" stroke="#2597FA" stroke-width="0.8" stroke-opacity="0.85"/>
<circle cx="523" cy="408.52" r="2.15" fill="none" stroke="#2597FA" stroke-width="0.7"/>
<line x1="550.3" y1="485.3" x2="550.3" y2="488.5" stroke="#c0c4cc" stroke-width="0.8"/>
<text transform="translate(550.3,498) scale(0.94,1)" class="xt">Scr</text>
<path d="M550.3 334.1V370.7M550.3 419.5V480.5M548.3 334.1h4M548.3 480.5h4" stroke="#445694" stroke-width="0.95" stroke-opacity="0.68" fill="none"/>
<rect x="546.15" y="370.7" width="8.3" height="48.8" fill="#6F7EB3" stroke="#445694" stroke-width="0.6"/>
<line x1="546.15" y1="382.9" x2="554.45" y2="382.9" stroke="#445694" stroke-width="0.8" stroke-opacity="0.85"/>
<circle cx="550.3" cy="391.44" r="2.15" fill="none" stroke="#445694" stroke-width="0.7"/>
<line x1="570.25" y1="485.3" x2="570.25" y2="488.5" stroke="#c0c4cc" stroke-width="0.8"/>
<text transform="translate(570.25,498) scale(0.94,1)" class="xt">1m</text>
<path d="M570.25 382.9V431.7M570.25 468.3V480.5M568.25 382.9h4M568.25 480.5h4" stroke="#A23A2E" stroke-width="0.95" stroke-opacity="0.68" fill="none"/>
<rect x="566.1" y="431.7" width="8.3" height="36.6" fill="#D05B5B" stroke="#A23A2E" stroke-width="0.6"/>
<line x1="566.1" y1="443.9" x2="574.4" y2="443.9" stroke="#A23A2E" stroke-width="0.8" stroke-opacity="0.85"/>
<circle cx="570.25" cy="445.12" r="2.15" fill="none" stroke="#A23A2E" stroke-width="0.7"/>
<circle cx="570.25" cy="370.7" r="1.5" fill="none" stroke="#A23A2E" stroke-width="0.7"/>
<line x1="590.2" y1="485.3" x2="590.2" y2="488.5" stroke="#c0c4cc" stroke-width="0.8"/>
<text transform="translate(590.2,498) scale(0.94,1)" class="xt">6m</text>
<path d="M590.2 370.7V407.3M590.2 443.9V480.5M588.2 370.7h4M588.2 480.5h4" stroke="#01665E" stroke-width="0.95" stroke-opacity="0.68" fill="none"/>
<rect x="586.05" y="407.3" width="8.3" height="36.6" fill="#66A5A0" stroke="#01665E" stroke-width="0.6"/>
<circle cx="590.2" cy="430.48" r="2.15" fill="none" stroke="#01665E" stroke-width="0.7"/>
<circle cx="590.2" cy="334.1" r="1.5" fill="none" stroke="#01665E" stroke-width="0.7"/>
<line x1="610.15" y1="485.3" x2="610.15" y2="488.5" stroke="#c0c4cc" stroke-width="0.8"/>
<text transform="translate(610.15,498) scale(0.94,1)" class="xt">9m</text>
<path d="M610.15 370.7V419.5M610.15 456.1V480.5M608.15 370.7h4M608.15 480.5h4" stroke="#543005" stroke-width="0.95" stroke-opacity="0.68" fill="none"/>
<rect x="606" y="419.5" width="8.3" height="36.6" fill="#A9865B" stroke="#543005" stroke-width="0.6"/>
<line x1="606" y1="443.9" x2="614.3" y2="443.9" stroke="#543005" stroke-width="0.8" stroke-opacity="0.85"/>
<circle cx="610.15" cy="436.58" r="2.15" fill="none" stroke="#543005" stroke-width="0.7"/>
<line x1="630.1" y1="485.3" x2="630.1" y2="488.5" stroke="#c0c4cc" stroke-width="0.8"/>
<text transform="translate(630.1,498) scale(0.94,1)" class="xt">12m</text>
<path d="M630.1 370.7V407.3M630.1 456.1V480.5M628.1 370.7h4M628.1 480.5h4" stroke="#9D3CDB" stroke-width="0.95" stroke-opacity="0.68" fill="none"/>
<rect x="625.95" y="407.3" width="8.3" height="48.8" fill="#B689CD" stroke="#9D3CDB" stroke-width="0.6"/>
<line x1="625.95" y1="443.9" x2="634.25" y2="443.9" stroke="#9D3CDB" stroke-width="0.8" stroke-opacity="0.85"/>
<circle cx="630.1" cy="434.14" r="2.15" fill="none" stroke="#9D3CDB" stroke-width="0.7"/>
<line x1="650.05" y1="485.3" x2="650.05" y2="488.5" stroke="#c0c4cc" stroke-width="0.8"/>
<text transform="translate(650.05,498) scale(0.94,1)" class="xt">18m</text>
<path d="M650.05 382.9V419.5M650.05 456.1V480.5M648.05 382.9h4M648.05 480.5h4" stroke="#7F8E1F" stroke-width="0.95" stroke-opacity="0.68" fill="none"/>
<rect x="645.9" y="419.5" width="8.3" height="36.6" fill="#BABC5C" stroke="#7F8E1F" stroke-width="0.6"/>
<line x1="645.9" y1="431.7" x2="654.2" y2="431.7" stroke="#7F8E1F" stroke-width="0.8" stroke-opacity="0.85"/>
<circle cx="650.05" cy="437.8" r="2.15" fill="none" stroke="#7F8E1F" stroke-width="0.7"/>
<line x1="670" y1="485.3" x2="670" y2="488.5" stroke="#c0c4cc" stroke-width="0.8"/>
<text transform="translate(670,498) scale(0.94,1)" class="xt">24m</text>
<path d="M670 370.7V419.5M670 456.1V480.5M668 370.7h4M668 480.5h4" stroke="#2597FA" stroke-width="0.95" stroke-opacity="0.68" fill="none"/>
<rect x="665.85" y="419.5" width="8.3" height="36.6" fill="#94BDE1" stroke="#2597FA" stroke-width="0.6"/>
<line x1="665.85" y1="443.9" x2="674.15" y2="443.9" stroke="#2597FA" stroke-width="0.8" stroke-opacity="0.85"/>
<circle cx="670" cy="436.58" r="2.15" fill="none" stroke="#2597FA" stroke-width="0.7"/>
</g>
<g>
<rect x="37.5" y="549.4" width="294.1" height="9.4" fill="#f6f7fd" stroke="#d4d8e0" stroke-width="0.7"/>
<line x1="184.3" y1="549.4" x2="184.3" y2="558.8" stroke="#d4d8e0" stroke-width="0.7"/>
<rect x="37.5" y="558.8" width="294.1" height="206" fill="#fff" stroke="#bfc4ce" stroke-width="0.8"/>
<line x1="184.3" y1="558.8" x2="184.3" y2="764.8" stroke="#7e8188" stroke-width="0.9"/>
<line x1="37.5" y1="558.8" x2="331.6" y2="558.8" stroke="#acaeb4" stroke-width="0.9"/>
<rect x="76.6" y="545.4" width="68.1" height="13.8" fill="#000"/>
<text x="110.65" y="555.9" class="gl" textLength="53.4" lengthAdjust="spacingAndGlyphs">Control group</text>
<rect x="227.8" y="545.4" width="67.8" height="13.8" fill="#000"/>
<text x="261.7" y="555.9" class="gl" textLength="46.4" lengthAdjust="spacingAndGlyphs">HACS group</text>
<line x1="34" y1="760" x2="37.5" y2="760" stroke="#c0c4cc" stroke-width="0.8"/>
<text transform="translate(31.9,762.7) scale(0.94,1)" class="yt">0</text>
<line x1="34" y1="720.7" x2="37.5" y2="720.7" stroke="#c0c4cc" stroke-width="0.8"/>
<text transform="translate(31.9,723.4) scale(0.94,1)" class="yt">2</text>
<line x1="34" y1="681.4" x2="37.5" y2="681.4" stroke="#c0c4cc" stroke-width="0.8"/>
<text transform="translate(31.9,684.1) scale(0.94,1)" class="yt">4</text>
<line x1="34" y1="642.1" x2="37.5" y2="642.1" stroke="#c0c4cc" stroke-width="0.8"/>
<text transform="translate(31.9,644.8) scale(0.94,1)" class="yt">6</text>
<line x1="34" y1="602.8" x2="37.5" y2="602.8" stroke="#c0c4cc" stroke-width="0.8"/>
<text transform="translate(31.9,605.5) scale(0.94,1)" class="yt">8</text>
<line x1="34" y1="563.5" x2="37.5" y2="563.5" stroke="#c0c4cc" stroke-width="0.8"/>
<text transform="translate(31.9,566.2) scale(0.94,1)" class="yt">10</text>
<text transform="translate(13.1,661.1) rotate(-90)" class="yl" textLength="50.5" lengthAdjust="spacingAndGlyphs">Pain for VAS</text>
<text x="184.55" y="789" class="al">Time</text>
<text x="2" y="551" class="tg">(e)</text>
<line x1="50.9" y1="764.8" x2="50.9" y2="768" stroke="#c0c4cc" stroke-width="0.8"/>
<text transform="translate(50.9,777.3) scale(0.94,1)" class="xt">Scr</text>
<path d="M50.9 563.5V602.8M50.9 661.75V681.4M48.9 563.5h4M48.9 681.4h4" stroke="#445694" stroke-width="0.95" stroke-opacity="0.68" fill="none"/>
<rect x="46.75" y="602.8" width="8.3" height="58.95" fill="#6F7EB3" stroke="#445694" stroke-width="0.6"/>
<line x1="46.75" y1="622.45" x2="55.05" y2="622.45" stroke="#445694" stroke-width="0.8" stroke-opacity="0.85"/>
<circle cx="50.9" cy="622.45" r="2.15" fill="none" stroke="#445694" stroke-width="0.7"/>
<line x1="70.85" y1="764.8" x2="70.85" y2="768" stroke="#c0c4cc" stroke-width="0.8"/>
<text transform="translate(70.85,777.3) scale(0.94,1)" class="xt">1m</text>
<path d="M70.85 622.45V701.05M70.85 760V760M68.85 622.45h4M68.85 760h4" stroke="#A23A2E" stroke-width="0.95" stroke-opacity="0.68" fill="none"/>
<rect x="66.7" y="701.05" width="8.3" height="58.95" fill="#D05B5B" stroke="#A23A2E" stroke-width="0.6"/>
<circle cx="70.85" cy="732.49" r="2.15" fill="none" stroke="#A23A2E" stroke-width="0.7"/>
<circle cx="70.85" cy="583.15" r="1.5" fill="none" stroke="#A23A2E" stroke-width="0.7"/>
<line x1="90.8" y1="764.8" x2="90.8" y2="768" stroke="#c0c4cc" stroke-width="0.8"/>
<text transform="translate(90.8,777.3) scale(0.94,1)" class="xt">6m</text>
<path d="M90.8 563.5V681.4M90.8 760V760M88.8 563.5h4M88.8 760h4" stroke="#01665E" stroke-width="0.95" stroke-opacity="0.68" fill="none"/>
<rect x="86.65" y="681.4" width="8.3" height="78.6" fill="#66A5A0" stroke="#01665E" stroke-width="0.6"/>
<line x1="86.65" y1="740.35" x2="94.95" y2="740.35" stroke="#01665E" stroke-width="0.8" stroke-opacity="0.85"/>
<circle cx="90.8" cy="714.81" r="2.15" fill="none" stroke="#01665E" stroke-width="0.7"/>
<line x1="110.75" y1="764.8" x2="110.75" y2="768" stroke="#c0c4cc" stroke-width="0.8"/>
<text transform="translate(110.75,777.3) scale(0.94,1)" class="xt">9m</text>
<path d="M110.75 602.8V681.4M110.75 760V760M108.75 602.8h4M108.75 760h4" stroke="#543005" stroke-width="0.95" stroke-opacity="0.68" fill="none"/>
<rect x="106.6" y="681.4" width="8.3" height="78.6" fill="#A9865B" stroke="#543005" stroke-width="0.6"/>
<line x1="106.6" y1="740.35" x2="114.9" y2="740.35" stroke="#543005" stroke-width="0.8" stroke-opacity="0.85"/>
<circle cx="110.75" cy="718.74" r="2.15" fill="none" stroke="#543005" stroke-width="0.7"/>
<line x1="130.7" y1="764.8" x2="130.7" y2="768" stroke="#c0c4cc" stroke-width="0.8"/>
<text transform="translate(130.7,777.3) scale(0.94,1)" class="xt">12m</text>
<path d="M130.7 602.8V681.4M130.7 760V760M128.7 602.8h4M128.7 760h4" stroke="#9D3CDB" stroke-width="0.95" stroke-opacity="0.68" fill="none"/>
<rect x="126.55" y="681.4" width="8.3" height="78.6" fill="#B689CD" stroke="#9D3CDB" stroke-width="0.6"/>
<line x1="126.55" y1="720.7" x2="134.85" y2="720.7" stroke="#9D3CDB" stroke-width="0.8" stroke-opacity="0.85"/>
<circle cx="130.7" cy="714.81" r="2.15" fill="none" stroke="#9D3CDB" stroke-width="0.7"/>
<line x1="150.65" y1="764.8" x2="150.65" y2="768" stroke="#c0c4cc" stroke-width="0.8"/>
<text transform="translate(150.65,777.3) scale(0.94,1)" class="xt">18m</text>
<path d="M150.65 642.1V681.4M150.65 760V760M148.65 642.1h4M148.65 760h4" stroke="#7F8E1F" stroke-width="0.95" stroke-opacity="0.68" fill="none"/>
<rect x="146.5" y="681.4" width="8.3" height="78.6" fill="#BABC5C" stroke="#7F8E1F" stroke-width="0.6"/>
<line x1="146.5" y1="701.05" x2="154.8" y2="701.05" stroke="#7F8E1F" stroke-width="0.8" stroke-opacity="0.85"/>
<circle cx="150.65" cy="706.95" r="2.15" fill="none" stroke="#7F8E1F" stroke-width="0.7"/>
<line x1="170.6" y1="764.8" x2="170.6" y2="768" stroke="#c0c4cc" stroke-width="0.8"/>
<text transform="translate(170.6,777.3) scale(0.94,1)" class="xt">24m</text>
<path d="M170.6 563.5V642.1M170.6 760V760M168.6 563.5h4M168.6 760h4" stroke="#2597FA" stroke-width="0.95" stroke-opacity="0.68" fill="none"/>
<rect x="166.45" y="642.1" width="8.3" height="117.9" fill="#94BDE1" stroke="#2597FA" stroke-width="0.6"/>
<line x1="166.45" y1="681.4" x2="174.75" y2="681.4" stroke="#2597FA" stroke-width="0.8" stroke-opacity="0.85"/>
<circle cx="170.6" cy="685.33" r="2.15" fill="none" stroke="#2597FA" stroke-width="0.7"/>
<line x1="198.15" y1="764.8" x2="198.15" y2="768" stroke="#c0c4cc" stroke-width="0.8"/>
<text transform="translate(198.15,777.3) scale(0.94,1)" class="xt">Scr</text>
<path d="M198.15 563.5V583.15M198.15 661.75V681.4M196.15 563.5h4M196.15 681.4h4" stroke="#445694" stroke-width="0.95" stroke-opacity="0.68" fill="none"/>
<rect x="194" y="583.15" width="8.3" height="78.6" fill="#6F7EB3" stroke="#445694" stroke-width="0.6"/>
<line x1="194" y1="602.8" x2="202.3" y2="602.8" stroke="#445694" stroke-width="0.8" stroke-opacity="0.85"/>
<circle cx="198.15" cy="616.56" r="2.15" fill="none" stroke="#445694" stroke-width="0.7"/>
<line x1="218.1" y1="764.8" x2="218.1" y2="768" stroke="#c0c4cc" stroke-width="0.8"/>
<text transform="translate(218.1,777.3) scale(0.94,1)" class="xt">1m</text>
<path d="M218.1 681.4V720.7M218.1 760V760M216.1 681.4h4M216.1 760h4" stroke="#A23A2E" stroke-width="0.95" stroke-opacity="0.68" fill="none"/>
<rect x="213.95" y="720.7" width="8.3" height="39.3" fill="#D05B5B" stroke="#A23A2E" stroke-width="0.6"/>
<line x1="213.95" y1="740.35" x2="222.25" y2="740.35" stroke="#A23A2E" stroke-width="0.8" stroke-opacity="0.85"/>
<circle cx="218.1" cy="738.38" r="2.15" fill="none" stroke="#A23A2E" stroke-width="0.7"/>
<line x1="238.05" y1="764.8" x2="238.05" y2="768" stroke="#c0c4cc" stroke-width="0.8"/>
<text transform="translate(238.05,777.3) scale(0.94,1)" class="xt">6m</text>
<path d="M238.05 622.45V681.4M238.05 740.35V760M236.05 622.45h4M236.05 760h4" stroke="#01665E" stroke-width="0.95" stroke-opacity="0.68" fill="none"/>
<rect x="233.9" y="681.4" width="8.3" height="58.95" fill="#66A5A0" stroke="#01665E" stroke-width="0.6"/>
<line x1="233.9" y1="720.7" x2="242.2" y2="720.7" stroke="#01665E" stroke-width="0.8" stroke-opacity="0.85"/>
<circle cx="238.05" cy="716.77" r="2.15" fill="none" stroke="#01665E" stroke-width="0.7"/>
<line x1="258" y1="764.8" x2="258" y2="768" stroke="#c0c4cc" stroke-width="0.8"/>
<text transform="translate(258,777.3) scale(0.94,1)" class="xt">9m</text>
<path d="M258 701.05V720.7M258 740.35V760M256 701.05h4M256 760h4" stroke="#543005" stroke-width="0.95" stroke-opacity="0.68" fill="none"/>
<rect x="253.85" y="720.7" width="8.3" height="19.65" fill="#A9865B" stroke="#543005" stroke-width="0.6"/>
<circle cx="258" cy="722.66" r="2.15" fill="none" stroke="#543005" stroke-width="0.7"/>
<circle cx="258" cy="681.4" r="1.5" fill="none" stroke="#543005" stroke-width="0.7"/>
<circle cx="258" cy="622.45" r="1.5" fill="none" stroke="#543005" stroke-width="0.7"/>
<circle cx="258" cy="602.8" r="1.5" fill="none" stroke="#543005" stroke-width="0.7"/>
<line x1="277.95" y1="764.8" x2="277.95" y2="768" stroke="#c0c4cc" stroke-width="0.8"/>
<text transform="translate(277.95,777.3) scale(0.94,1)" class="xt">12m</text>
<path d="M277.95 661.75V701.05M277.95 740.35V760M275.95 661.75h4M275.95 760h4" stroke="#9D3CDB" stroke-width="0.95" stroke-opacity="0.68" fill="none"/>
<rect x="273.8" y="701.05" width="8.3" height="39.3" fill="#B689CD" stroke="#9D3CDB" stroke-width="0.6"/>
<line x1="273.8" y1="720.7" x2="282.1" y2="720.7" stroke="#9D3CDB" stroke-width="0.8" stroke-opacity="0.85"/>
<circle cx="277.95" cy="714.81" r="2.15" fill="none" stroke="#9D3CDB" stroke-width="0.7"/>
<circle cx="277.95" cy="602.8" r="1.5" fill="none" stroke="#9D3CDB" stroke-width="0.7"/>
<line x1="297.9" y1="764.8" x2="297.9" y2="768" stroke="#c0c4cc" stroke-width="0.8"/>
<text transform="translate(297.9,777.3) scale(0.94,1)" class="xt">18m</text>
<path d="M297.9 701.05V720.7M297.9 740.35V760M295.9 701.05h4M295.9 760h4" stroke="#7F8E1F" stroke-width="0.95" stroke-opacity="0.68" fill="none"/>
<rect x="293.75" y="720.7" width="8.3" height="19.65" fill="#BABC5C" stroke="#7F8E1F" stroke-width="0.6"/>
<circle cx="297.9" cy="724.63" r="2.15" fill="none" stroke="#7F8E1F" stroke-width="0.7"/>
<circle cx="297.9" cy="661.75" r="1.5" fill="none" stroke="#7F8E1F" stroke-width="0.7"/>
<circle cx="297.9" cy="642.1" r="1.5" fill="none" stroke="#7F8E1F" stroke-width="0.7"/>
<circle cx="297.9" cy="583.15" r="1.5" fill="none" stroke="#7F8E1F" stroke-width="0.7"/>
<line x1="317.85" y1="764.8" x2="317.85" y2="768" stroke="#c0c4cc" stroke-width="0.8"/>
<text transform="translate(317.85,777.3) scale(0.94,1)" class="xt">24m</text>
<path d="M317.85 602.8V681.4M317.85 740.35V760M315.85 602.8h4M315.85 760h4" stroke="#2597FA" stroke-width="0.95" stroke-opacity="0.68" fill="none"/>
<rect x="313.7" y="681.4" width="8.3" height="58.95" fill="#94BDE1" stroke="#2597FA" stroke-width="0.6"/>
<line x1="313.7" y1="720.7" x2="322" y2="720.7" stroke="#2597FA" stroke-width="0.8" stroke-opacity="0.85"/>
<circle cx="317.85" cy="718.74" r="2.15" fill="none" stroke="#2597FA" stroke-width="0.7"/>
<circle cx="317.85" cy="563.5" r="1.5" fill="none" stroke="#2597FA" stroke-width="0.7"/>
</g>
</svg>
</body></html>
